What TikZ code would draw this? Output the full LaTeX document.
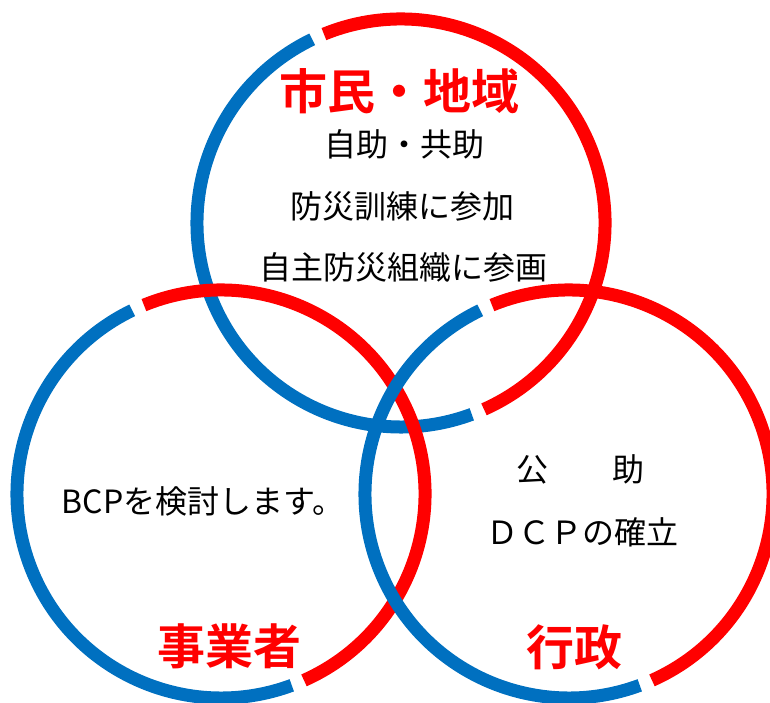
\documentclass[tikz,border=0pt]{standalone}
\usepackage{fontspec}
\setmainfont{Noto Sans CJK JP}[BoldFont={Noto Sans CJK JP Bold}]
\definecolor{ringred}{HTML}{FF0000}
\definecolor{ringblue}{HTML}{0070C0}
\tikzset{
  ring/.style={line width=13pt, line cap=butt},
  bodytext/.style={anchor=base, inner sep=0pt, font=\fontsize{32}{32}\selectfont, text=black},
  titletext/.style={anchor=base, inner sep=0pt, font=\fontsize{48}{48}\selectfont\bfseries, text=ringred}
}
\newcommand{\vennring}[1]{%
  \draw[ring, ringblue] ($(#1)+(115.8:204pt)$) arc[start angle=115.8, end angle=290.3, radius=204pt];
  \draw[ring, ringred] ($(#1)+(-66:204pt)$) arc[start angle=-66, end angle=112.2, radius=204pt];
}
\usetikzlibrary{calc}
\begin{document}
\begin{tikzpicture}[x=1pt,y=1pt]
\useasboundingbox (0,0) rectangle (770,703);
\clip (0,0) rectangle (770,703);
\coordinate (ctop) at (401,480);
\coordinate (cleft) at (221,209);
\coordinate (cright) at (569,209);
\vennring{ctop}
\vennring{cleft}
\vennring{cright}
\node[titletext] (tcitizen) at (399,593) {市民・地域};
\node[bodytext] (l1) at (404,546) {自助・共助};
\node[bodytext] (l2) at (402,484) {防災訓練に参加};
\node[bodytext] (l3) at (403.5,423) {自主防災組織に参画};
\node[bodytext] (bcp) at (203,189) {BCPを検討します。};
\node[titletext] (tbiz) at (229,38) {事業者};
\node[bodytext] (r1) at (580,221) {公　　助};
\node[bodytext] (r2) at (582.5,158) {ＤＣＰの確立};
\node[titletext] (tgov) at (574,37) {行政};
\end{tikzpicture}
\end{document}
